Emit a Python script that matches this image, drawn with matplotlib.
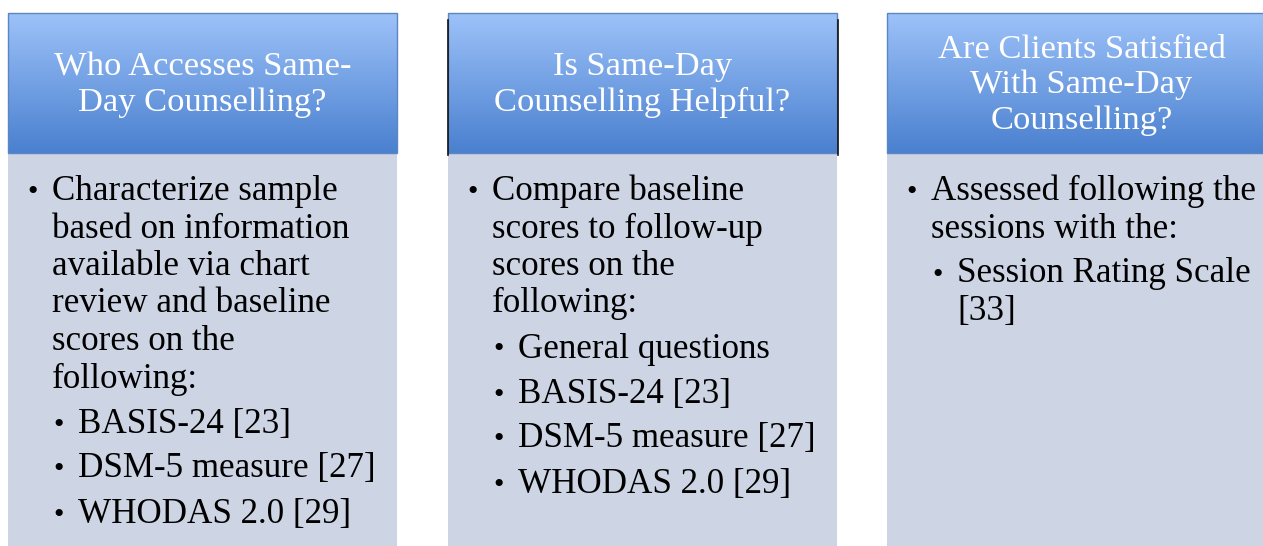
import matplotlib
matplotlib.use("Agg")
import matplotlib.pyplot as plt
import numpy as np
from matplotlib.patches import Rectangle
from matplotlib.colors import LinearSegmentedColormap

# ---- content ----
titles = [
    "Who Accesses Same-\nDay Counselling?",
    "Is Same-Day\nCounselling Helpful?",
    "Are Clients Satisfied\nWith Same-Day\nCounselling?",
]
panel1_items = [
    (0, ["Characterize sample", "based on information", "available via chart",
         "review and baseline", "scores on the", "following:"]),
    (1, ["BASIS-24 [23]"]),
    (1, ["DSM-5 measure [27]"]),
    (1, ["WHODAS 2.0 [29]"]),
]
panel2_items = [
    (0, ["Compare baseline", "scores to follow-up", "scores on the", "following:"]),
    (1, ["General questions"]),
    (1, ["BASIS-24 [23]"]),
    (1, ["DSM-5 measure [27]"]),
    (1, ["WHODAS 2.0 [29]"]),
]
panel3_items = [
    (0, ["Assessed following the", "sessions with the:"]),
    (1, ["Session Rating Scale", "[33]"]),
]
panels_items = [panel1_items, panel2_items, panel3_items]

# ---- layout ----
W, H = 1263, 546
fig = plt.figure(figsize=(W / 100, H / 100), dpi=100)
ax = fig.add_axes([0, 0, 1, 1])
ax.set_xlim(0, W)
ax.set_ylim(H, 0)
ax.axis("off")

panel_x = [8, 448, 887]
panel_w = 389
head_top, head_bot = 13, 153
body_col = "#cdd4e3"
font = "Liberation Serif"
fs_body = 25.2
fs_head = 24.8

cmap = LinearSegmentedColormap.from_list("hdr", ["#9dc2f9", "#4a80cf"])
grad = np.linspace(0, 1, 256).reshape(-1, 1)

for i, (x0, title, items) in enumerate(zip(panel_x, titles, panels_items)):
    # body
    ax.add_patch(Rectangle((x0, head_bot), panel_w, H - head_bot + 5,
                           facecolor=body_col, edgecolor="none", zorder=1))
    # header gradient
    ax.imshow(grad, cmap=cmap, aspect="auto",
              extent=(x0, x0 + panel_w, head_bot, head_top), zorder=2)
    ax.add_patch(Rectangle((x0, head_top), panel_w, head_bot - head_top,
                           facecolor="none", edgecolor="#5b86c4", lw=1.0, zorder=3))
    if i == 1:
        for xx in (x0 - 0.5, x0 + panel_w + 0.5):
            ax.plot([xx, xx], [20, head_bot + 2], color="#111111", lw=1.2, zorder=3)
    ax.text(x0 + panel_w / 2, 85, title, ha="center", va="center",
            color="white", fontsize=fs_head, family=font, linespacing=1.21, zorder=4)

    # body text
    y = 200
    first = True
    for level, lines in items:
        if not first:
            y += 45
        first = False
        bx = x0 + 25 + level * 26
        tx = x0 + 44 + level * 26
        ax.text(bx, y, "\u2022", ha="center", va="baseline", color="black",
                fontsize=fs_body * 0.85, family=font, zorder=4)
        for j, line in enumerate(lines):
            if j > 0:
                y += 37.5
            ax.text(tx, y, line, ha="left", va="baseline", color="black",
                    fontsize=fs_body, family=font, zorder=4)

fig.savefig("out.png", dpi=100)
